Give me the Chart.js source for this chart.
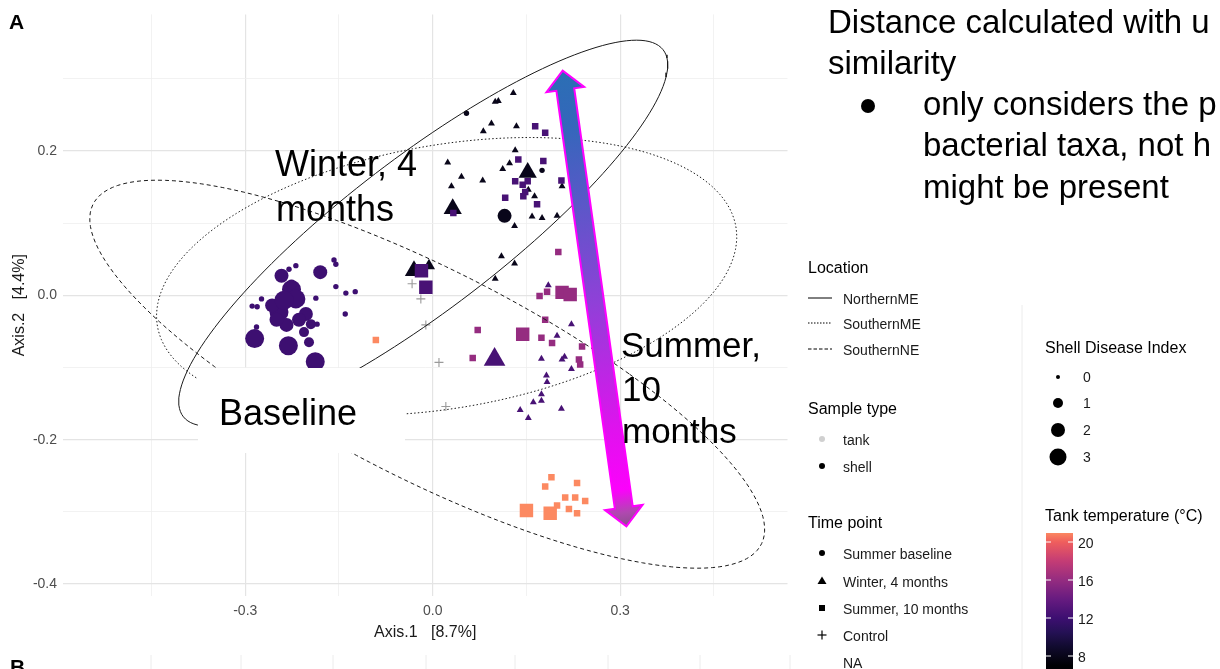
<!DOCTYPE html>
<html>
<head>
<meta charset="utf-8">
<script src="https://cdn.jsdelivr.net/npm/chart.js@4.4.1/dist/chart.umd.min.js"></script>
<style>
html,body{margin:0;padding:0;background:#fff;width:1220px;height:669px;overflow:hidden;}
#wrap{position:absolute;left:0;top:0;width:800px;height:669px;}
#ov{position:absolute;left:0;top:0;width:1220px;height:669px;pointer-events:none;z-index:2;}
#ov text{font-family:"Liberation Sans",Arial,Helvetica,sans-serif;}
</style>
</head>
<body>
<div id="wrap"><canvas id="c" width="800" height="669"></canvas></div>
<svg id="ov" xmlns="http://www.w3.org/2000/svg" width="1220" height="669"></svg>
<script>
// ---------------- DATA ----------------
const xTickValues = [-0.45, -0.3, -0.15, 0, 0.15, 0.3, 0.45];
const xTickLabels = ['', '-0.3', '', '0.0', '', '0.3', ''];
const yTickValues = [-0.4, -0.3, -0.2, -0.1, 0, 0.1, 0.2, 0.3];
const yTickLabels = ['-0.4', '', '-0.2', '', '0.0', '', '0.2', ''];

// Summer baseline (circles)
const baselineX = [-0.158,-0.155,-0.219,-0.230,-0.180,-0.242,-0.226,-0.155,-0.139,-0.124,
  -0.187,-0.140,-0.274,-0.289,-0.281,-0.246,-0.257,-0.219,-0.203,-0.234,
  -0.250,-0.195,-0.185,-0.206,-0.198,-0.285,-0.282,-0.231,-0.188,-0.238,
  -0.214,-0.226, 0.054, 0.115, 0.175];
const baselineY = [0.049,0.043,0.041,0.036,0.032,0.027,0.008,0.012,0.003,0.005,
  -0.004,-0.026,-0.005,-0.015,-0.016,-0.023,-0.014,-0.005,-0.026,-0.041,
  -0.034,-0.040,-0.040,-0.051,-0.065,-0.060,-0.044,-0.070,-0.092,-0.007,
  -0.034,0.015, 0.252, 0.110, 0.173];
const baselineSDI = [0,0,0,0,2,2,3,0,0,0, 0,0,0,0,0,3,2,3,2,2, 2,1,0,1,1,3,0,3,3,3, 2,1, 0,2,0];
const baselineTemp = [12,12,12,12,12,12,12,12,12,12, 12,12,12,12,12,12,12,12,12,12,
  12,12,12,12,12,12,12,12,12,12, 12,12, 8,8,8];

// Winter, 4 months (triangles)
const winterX = [0.129,0.105,0.100,0.094,0.081,0.134,0.132,0.123,0.112,0.152,
  0.024,0.046,0.080,0.030,0.153,0.163,0.207,0.032,0.159,0.175,
  0.199,0.131,0.110,0.131,0.100,-0.030,-0.006,
  0.185,0.222,0.199,0.174,0.207,0.211,0.222,0.182,0.183,0.174,
  0.174,0.161,0.140,0.153,0.206,0.099];
const winterY = [0.280,0.269,0.268,0.238,0.227,0.234,0.201,0.183,0.175,0.170,
  0.184,0.164,0.159,0.151,0.146,0.137,0.151,0.120,0.109,0.107,
  0.110,0.096,0.054,0.044,0.023,0.034,0.041,
  0.014,-0.040,-0.056,-0.088,-0.089,-0.085,-0.102,-0.111,-0.120,-0.137,
  -0.146,-0.148,-0.159,-0.170,-0.157,-0.089];
const winterSDI = [0,0,0,0,0,0,0,0,0,2, 0,0,0,0,0,0,0,2,0,0, 0,0,0,0,0,2,1,
  0,0,0,0,0,0,0,0,0,0, 0,0,0,0,0,3];
const winterTemp = [8,8,8,8,8,8,8,8,8,8, 8,8,8,8,8,8,8,8,8,8, 8,8,8,8,8,8,8,
  12.5,12.5,12.5,12.5,12.5,12.5,12.5,12.5,12.5,12.5, 12.5,12.5,12.5,12.5,12.5,12.5];

// Summer, 10 months (squares)
const summerX = [0.164,0.180,0.137,0.177,0.132,0.144,0.152,0.148,0.145,0.116,0.167,0.206,0.033,-0.018,-0.011,
  0.201,0.183,0.207,0.220,0.171,0.072,0.144,0.174,0.191,0.180,0.239,0.064,0.234,0.236,
  0.190,0.180,0.231,0.212,0.228,0.244,0.199,0.218,0.231,0.150,0.188,-0.091];
const summerY = [0.234,0.225,0.188,0.186,0.158,0.153,0.158,0.143,0.137,0.135,0.126,0.159,0.114,0.034,0.011,
  0.060,0.005,0.004,0.001,-0.001,-0.048,-0.054,-0.059,-0.066,-0.034,-0.071,-0.087,-0.089,-0.096,
  -0.252,-0.265,-0.260,-0.280,-0.280,-0.285,-0.291,-0.296,-0.302,-0.298,-0.302,-0.062];
const summerSDI = [0,0,0,0,0,0,0,0,0,0,0,0,0,2,2,
  0,0,2,2,0,0,2,0,0,0,0,0,0,0,
  0,0,0,0,0,0,0,0,0,2,2,0];
const summerTemp = [12.5,12.5,12.5,12.5,12.5,12.5,12.5,12.5,12.5,12.5,12.5,12.5,12.5,12.5,12.5,
  16,16,16,16,16,16,16,16,16,16,16,16,16,16,
  21,21,21,21,21,21,21,21,21,21,21,21];

// Control (+)
const controlX = [-0.033,-0.019,-0.011,0.010,0.021];
const controlY = [0.016,-0.005,-0.041,-0.093,-0.154];

// Location ellipses: centre + two conjugate semi-diameters (data units)
const ellipseNames = ['NorthernME','SouthernME','SouthernNE'];
const ellipseCx = [-0.0152, 0.0223, -0.0088];
const ellipseCy = [0.0859, 0.0261, -0.1093];
const ellipseAx = [0.1914, 0.445, 0.3238];
const ellipseBx = [-0.3413, -0.1324, 0.4322];
const ellipseBy = [-0.2674, -0.1924, -0.2687];

// annotation arrow ends (data units)
const arrowStart = [0.208, 0.311];
const arrowEnd = [0.310, -0.320];

// legend labels
const locationLabels = ['NorthernME','SouthernME','SouthernNE'];
const sampleTypeLabels = ['tank','shell'];
const timePointLabels = ['Summer baseline','Winter, 4 months','Summer, 10 months','Control','NA'];
const sdiLabels = ['0','1','2','3'];
const tempTicks = [20,16,12,8];

// ---------------- STYLE ----------------
const FONT = '"Liberation Sans", Arial, Helvetica, sans-serif';
const magmaStops = [[7,'#000004'],[9,'#110b2f'],[10.5,'#251155'],[12,'#3d0f71'],[14,'#671b80'],
  [16,'#952c80'],[18,'#c43c75'],[20,'#ef5e5d'],[21,'#fc8961']];
function hex2rgb(h){return [parseInt(h.slice(1,3),16),parseInt(h.slice(3,5),16),parseInt(h.slice(5,7),16)];}
function magma(t){
  if (t <= magmaStops[0][0]) return magmaStops[0][1];
  const last = magmaStops[magmaStops.length-1];
  if (t >= last[0]) return last[1];
  for (let i=0;i<magmaStops.length-1;i++){
    const a=magmaStops[i], b=magmaStops[i+1];
    if (t>=a[0] && t<=b[0]){
      const f=(t-a[0])/(b[0]-a[0]); const ca=hex2rgb(a[1]), cb=hex2rgb(b[1]);
      return 'rgb('+ca.map((v,k)=>Math.round(v+(cb[k]-v)*f)).join(',')+')';
    }
  }
}
const circleR = [2.7, 5, 7, 9.5];
const triR = [4, 7, 10.5, 12.5];
const rectR = [4.6, 7, 9.5, 11.5];

function ellipsePoints(i){
  const pts=[];
  for(let k=0;k<=160;k++){
    const t=k/160*2*Math.PI;
    pts.push({x: ellipseCx[i]+Math.cos(t)*ellipseAx[i]+Math.sin(t)*ellipseBx[i],
              y: ellipseCy[i]+Math.sin(t)*ellipseBy[i]});
  }
  return pts;
}
const ellipseDash = [[], [1.5,2.2], [4,3]];

function pointDataset(xs, ys, sdi, temp, style, radii, order){
  return {
    type:'scatter',
    data: xs.map((x,i)=>({x:x, y:ys[i]})),
    pointStyle: style,
    pointRadius: sdi.map(s=>radii[s]),
    pointHoverRadius: sdi.map(s=>radii[s]),
    pointBackgroundColor: temp.map(magma),
    pointBorderColor: 'rgba(0,0,0,0)',
    pointBorderWidth: 0,
    showLine:false,
    order: order
  };
}

const datasets = [];
ellipseNames.forEach((n,i)=>{
  datasets.push({type:'scatter', label:n, data: ellipsePoints(i), showLine:true, fill:false,
    borderColor:'#1a1a1a', borderWidth:1, borderDash: ellipseDash[i], pointRadius:0, pointHoverRadius:0,
    tension:0, order:0});
});
datasets.push({type:'scatter', label:'Control', data: controlX.map((x,i)=>({x:x,y:controlY[i]})),
  pointStyle:'cross', pointRadius:4.5, pointHoverRadius:4.5, pointBorderColor:'#9a9a9a', pointBorderWidth:1.1,
  pointBackgroundColor:'#9a9a9a', showLine:false, order:1});
datasets.push(pointDataset(baselineX, baselineY, baselineSDI, baselineTemp, 'circle', circleR, 2));
datasets.push(pointDataset(summerX, summerY, summerSDI, summerTemp, 'rect', rectR, 3));
datasets.push(pointDataset(winterX, winterY, winterSDI, winterTemp, 'triangle', triR, 4));

const arrowPlugin = {
  id:'arrowAnno',
  afterDatasetsDraw(chart){
    const {ctx, scales:{x, y}} = chart;
    const x1=x.getPixelForValue(arrowStart[0]), y1=y.getPixelForValue(arrowStart[1]);
    const x2=x.getPixelForValue(arrowEnd[0]), y2=y.getPixelForValue(arrowEnd[1]);
    const dx=x2-x1, dy=y2-y1, L=Math.hypot(dx,dy), ux=dx/L, uy=dy/L, nx=-uy, ny=ux;
    const hl=19, hw=19, sw=9;
    const P=(t,n)=>[x1+ux*t+nx*n, y1+uy*t+ny*n];
    const pts=[P(0,0),P(hl,hw),P(hl,sw),P(L-hl,sw),P(L-hl,hw),P(L,0),P(L-hl,-hw),P(L-hl,-sw),P(hl,-sw),P(hl,-hw)];
    ctx.save();
    ctx.beginPath();
    pts.forEach((p,i)=> i ? ctx.lineTo(p[0],p[1]) : ctx.moveTo(p[0],p[1]));
    ctx.closePath();
    const g=ctx.createLinearGradient(x1,y1,x2,y2);
    [[0,'#2b6fb4'],[0.12,'#3467bb'],[0.29,'#5a58c8'],[0.51,'#9040d8'],[0.79,'#e012ee'],
     [0.92,'#fb02fb'],[0.97,'#b048b0'],[1,'#8a508c']].forEach(s=>g.addColorStop(s[0],s[1]));
    ctx.fillStyle=g; ctx.fill();
    ctx.lineWidth=2; ctx.strokeStyle='#ff00ff'; ctx.lineJoin='miter'; ctx.stroke();
    ctx.restore();
  }
};

const gridColor = (labels)=> c => (labels[c.index] ? '#e4e4e4' : '#efefef');
const gridWidth = (labels)=> c => (labels[c.index] ? 1.2 : 0.8);

new Chart(document.getElementById('c'), {
  type:'scatter',
  data:{datasets: datasets},
  options:{
    responsive:false, animation:false, events:[],
    layout:{padding:{left:0,right:10,top:10,bottom:27}},
    font:{family:FONT},
    plugins:{legend:{display:false}, tooltip:{enabled:false}},
    scales:{
      x:{
        type:'linear', min:-0.5917, max:0.5678,
        afterBuildTicks: s => { s.ticks = xTickValues.map(v=>({value:v})); },
        afterFit: s => { s.height = 46; },
        ticks:{callback:(v,i)=>xTickLabels[i], autoSkip:false, maxRotation:0, padding:7,
          color:'#4d4d4d', font:{family:FONT, size:14}},
        grid:{drawTicks:false, color:gridColor(xTickLabels), lineWidth:gridWidth(xTickLabels)},
        border:{display:false},
        title:{display:true, text:'Axis.1   [8.7%]', color:'#1a1a1a', font:{family:FONT, size:16}, padding:{top:0,bottom:0}}
      },
      y:{
        type:'linear', min:-0.4165, max:0.389,
        afterBuildTicks: s => { s.ticks = yTickValues.map(v=>({value:v})); },
        afterFit: s => { s.width = 63; },
        ticks:{callback:(v,i)=>yTickLabels[i], autoSkip:false, padding:6,
          color:'#4d4d4d', font:{family:FONT, size:14}},
        grid:{drawTicks:false, color:gridColor(yTickLabels), lineWidth:gridWidth(yTickLabels)},
        border:{display:false},
        title:{display:true, text:'Axis.2   [4.4%]', color:'#1a1a1a', font:{family:FONT, size:16}, padding:{top:10,bottom:0}}
      }
    }
  },
  plugins:[arrowPlugin]
});

// ---------------- OVERLAY (annotations + legend) ----------------
const svg=document.getElementById('ov'); const NS='http://www.w3.org/2000/svg';
function el(name, attrs, parent){ const e=document.createElementNS(NS,name); for(const k in attrs) e.setAttribute(k, attrs[k]); (parent||svg).appendChild(e); return e; }
function txt(s, x, y, size, extra){ const t=el('text', Object.assign({x:x, y:y, 'font-size':size, fill:'#000'}, extra||{})); t.textContent=s; return t; }

// faint remnants of neighbouring panels
el('line',{x1:1022,y1:305,x2:1022,y2:669,stroke:'#ececec','stroke-width':1});
[151,241,333,426,515,608,700,790].forEach(x=>el('line',{x1:x,y1:655,x2:x,y2:669,stroke:'#ececec','stroke-width':1}));

txt('A', 9, 29, 21, {'font-weight':'bold'});
txt('B', 10, 674, 21, {'font-weight':'bold'});

// slide annotations
txt('Winter, 4', 275, 176, 36);
txt('months', 276, 221, 36);
el('rect',{x:198,y:368,width:207,height:85,fill:'#fff'});
txt('Baseline', 219, 425, 36);
txt('Summer,', 621, 357, 35);
txt('10', 622, 401, 35);
txt('months', 622, 443, 35);
txt('Distance calculated with u', 828, 33, 33);
txt('similarity', 828, 74, 33);
el('circle',{cx:868,cy:106,r:7,fill:'#000'});
txt('only considers the p', 923, 115, 33);
txt('bacterial taxa, not h', 923, 156, 33);
txt('might be present', 923, 198, 33);

// legend: Location
const LT=16, LI=14, ITEM='#1a1a1a';
txt('Location', 808, 273, LT);
const locY=[298,323,349], locDash=['none','1.5 1.5','3.5 2'];
locationLabels.forEach((l,i)=>{
  const a={x1:808,y1:locY[i],x2:832,y2:locY[i],stroke:'#000','stroke-width':1};
  if(locDash[i]!=='none') a['stroke-dasharray']=locDash[i];
  el('line',a);
  txt(l, 843, locY[i]+5.5, LI, {fill:ITEM});
});
// Sample type
txt('Sample type', 808, 414, LT);
const stY=[439,466], stCol=['#d0d0d0','#000'];
sampleTypeLabels.forEach((l,i)=>{
  el('circle',{cx:822,cy:stY[i],r:3,fill:stCol[i]});
  txt(l, 843, stY[i]+6, LI, {fill:ITEM});
});
// Time point
txt('Time point', 808, 528, LT);
const tpY=[553,581,608,635,662];
el('circle',{cx:822,cy:tpY[0],r:3,fill:'#000'});
el('polygon',{points:`822,${tpY[1]-4.5} 826.5,${tpY[1]+3} 817.5,${tpY[1]+3}`,fill:'#000'});
el('rect',{x:819,y:tpY[2]-3,width:6,height:6,fill:'#000'});
el('line',{x1:817.5,y1:tpY[3],x2:826.5,y2:tpY[3],stroke:'#000','stroke-width':1.2});
el('line',{x1:822,y1:tpY[3]-4.5,x2:822,y2:tpY[3]+4.5,stroke:'#000','stroke-width':1.2});
timePointLabels.forEach((l,i)=> txt(l, 843, tpY[i]+5.5, LI, {fill:ITEM}));
// Shell Disease Index
txt('Shell Disease Index', 1045, 353, LT);
const sdiY=[377,403,430,457], sdiR=[2,5,7,8.5];
sdiLabels.forEach((l,i)=>{
  el('circle',{cx:1058,cy:sdiY[i],r:sdiR[i],fill:'#000'});
  txt(l, 1083, sdiY[i]+5, LI, {fill:ITEM});
});
// Tank temperature colourbar
txt('Tank temperature (\u00B0C)', 1045, 521, LT);
const cbTop=533, cbBot=669, tempToY = t => 656 - (t-8)*9.5;
const T0 = 8 + (656-cbTop)/9.5, T1 = 8 - (cbBot-656)/9.5;
const defs=el('defs',{});
const lg=el('linearGradient',{id:'cb',x1:0,y1:0,x2:0,y2:1},defs);
const stops=[[0,magma(T0)]];
magmaStops.forEach(s=>{ const o=(T0-s[0])/(T0-T1); if(o>0 && o<1) stops.push([o,s[1]]); });
stops.push([1,magma(T1)]);
stops.sort((a,b)=>a[0]-b[0]).forEach(s=>el('stop',{offset:s[0],'stop-color':s[1]},lg));
el('rect',{x:1046,y:cbTop,width:27,height:cbBot-cbTop,fill:'url(#cb)'});
tempTicks.forEach(t=>{
  const yy=tempToY(t);
  el('line',{x1:1046,y1:yy,x2:1051,y2:yy,stroke:'#fff','stroke-width':1});
  el('line',{x1:1068,y1:yy,x2:1073,y2:yy,stroke:'#fff','stroke-width':1});
  txt(String(t), 1078, yy+6, LI, {fill:ITEM});
});
</script>
</body>
</html>
